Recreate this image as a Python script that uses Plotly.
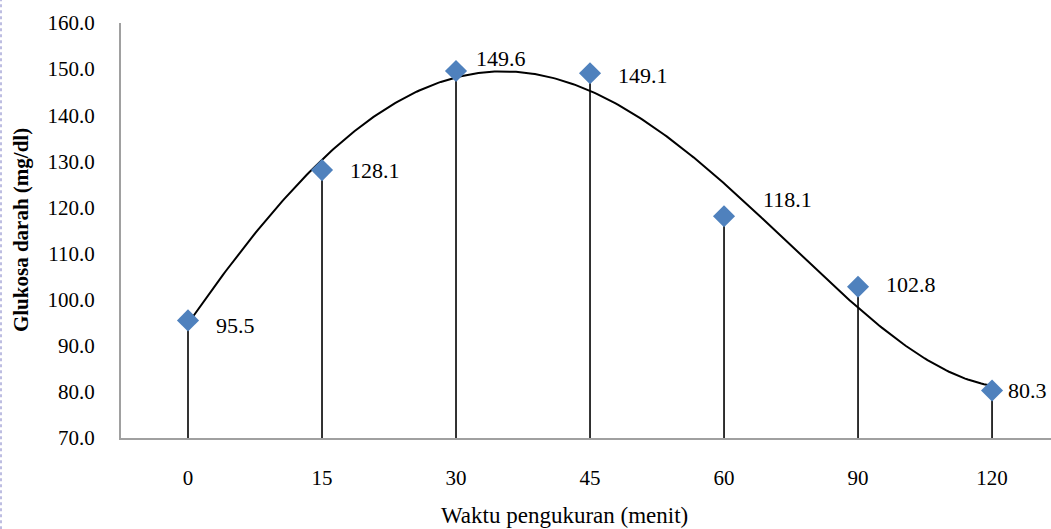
import numpy as np
import plotly.graph_objects as go

# Blood glucose measured at each time point
waktu = ["0", "15", "30", "45", "60", "90", "120"]
glukosa = [95.5, 128.1, 149.6, 149.1, 118.1, 102.8, 80.3]
y_ticks = [70, 80, 90, 100, 110, 120, 130, 140, 150, 160]

pos = np.arange(len(waktu))
y = np.array(glukosa)
y_min, y_max = 70, 160

# Fourth-order polynomial trendline over the category positions
coef = np.polyfit(pos, y, 4)
xs = np.linspace(0, len(waktu) - 1, 300)
ys = np.polyval(coef, xs)

FONT = "serif"

fig = go.Figure()

# Drop lines from each point down to the category axis
drop_x, drop_y = [], []
for p, v in zip(pos, glukosa):
    drop_x += [p, p, None]
    drop_y += [y_min, v, None]
fig.add_trace(go.Scatter(x=drop_x, y=drop_y, mode="lines",
                         line=dict(color="black", width=1.6), showlegend=False))

fig.add_trace(go.Scatter(x=xs, y=ys, mode="lines",
                         line=dict(color="black", width=2), showlegend=False))

fig.add_trace(go.Scatter(
    x=pos, y=y, mode="markers",
    marker=dict(symbol="diamond", size=17, color="#4F81BD"),
    showlegend=False,
))

# Value labels, placed to the right of each marker
label_shift = [(26, -5), (26, 0), (18, 12), (26, -2), (37, 17), (26, 2), (14, 0)]
for p, v, (dx, dy) in zip(pos, glukosa, label_shift):
    fig.add_annotation(
        x=p, y=v, text=f"{v:.1f}", showarrow=False,
        xanchor="left", yanchor="middle", xshift=dx, yshift=dy,
        font=dict(family=FONT, size=22, color="black"),
    )

fig.add_annotation(
    x=0.4774, y=-0.186, xref="paper", yref="paper",
    text="Waktu pengukuran (menit)", showarrow=False,
    xanchor="center", yanchor="middle",
    font=dict(family=FONT, size=23, color="black"),
)

fig.add_annotation(
    x=-0.108, y=0.5, xref="paper", yref="paper",
    text="<b>Glukosa darah (mg/dl)</b>", showarrow=False, textangle=-90,
    xanchor="center", yanchor="middle",
    font=dict(family=FONT, size=21, color="black"),
)

# dotted page border on the far left
fig.add_shape(
    type="line", xref="paper", yref="paper",
    x0=-120 / 930, x1=-120 / 930, y0=-91 / 414, y1=1 + 23 / 414,
    line=dict(color="#A8A8D8", width=1.5, dash="dot"),
)

fig.update_layout(
    width=1051, height=529,
    margin=dict(l=121, r=0, t=23, b=91),
    plot_bgcolor="white",
    font=dict(family=FONT, size=20, color="black"),
    xaxis=dict(
        range=[-0.5, 6.44], tickmode="array", tickvals=list(pos), ticktext=waktu,
        showgrid=False, zeroline=False, showline=True, linecolor="#A0A0A0", linewidth=2,
        ticks="outside", ticklen=20, tickcolor="rgba(0,0,0,0)",
        tickfont=dict(family=FONT, size=21, color="black"),
    ),
    yaxis=dict(
        range=[y_min, y_max], tickmode="array", tickvals=y_ticks,
        ticktext=[f"{t:.1f}" for t in y_ticks],
        showgrid=False, zeroline=False, showline=True, linecolor="#A0A0A0", linewidth=2,
        ticks="outside", ticklen=20, tickcolor="rgba(0,0,0,0)",
        tickfont=dict(family=FONT, size=21, color="black"),
    ),
)

fig.write_html("out.html")
